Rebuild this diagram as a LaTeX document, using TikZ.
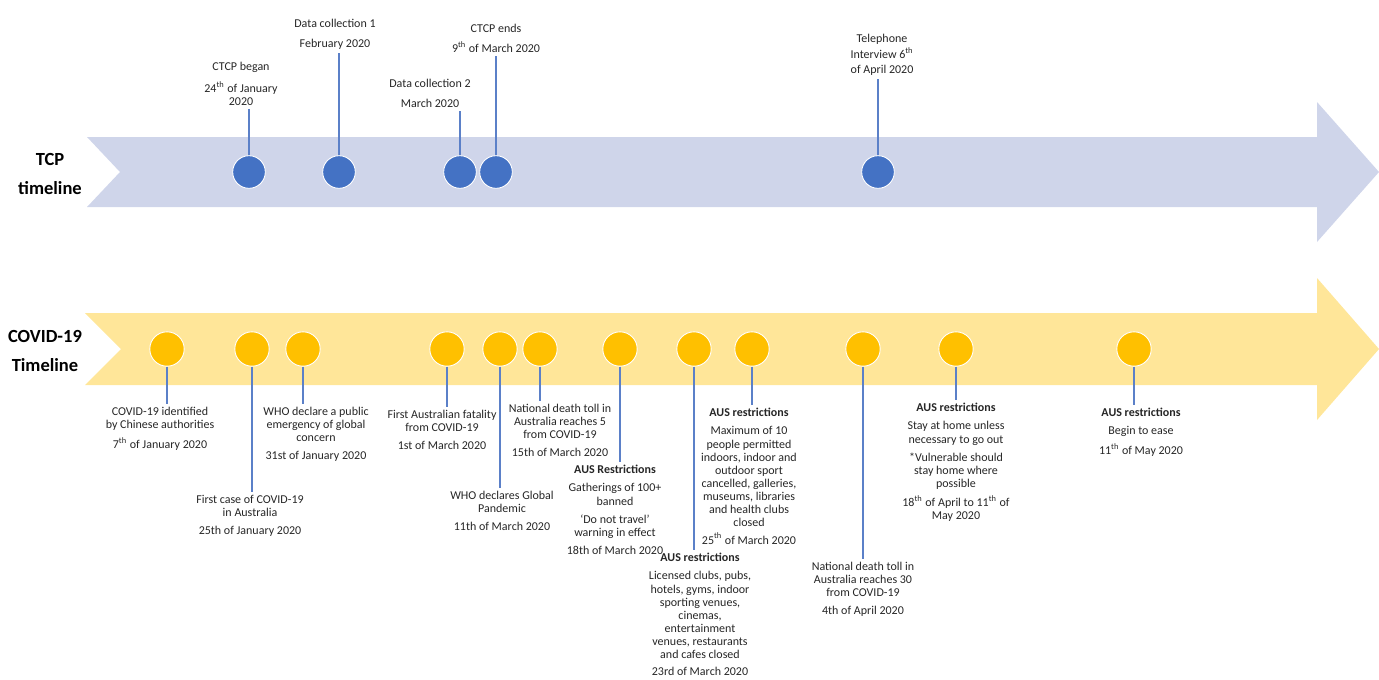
\documentclass[tikz,border=0pt]{standalone}
\usepackage{fontspec}
\setmainfont{Carlito}
\definecolor{tcpband}{HTML}{CFD5EA}
\definecolor{tcpblue}{HTML}{4472C4}
\definecolor{covband}{HTML}{FFE699}
\definecolor{covgold}{HTML}{FFC000}
\definecolor{stemblue}{HTML}{5B80C8}
\definecolor{txtgray}{HTML}{262626}
\tikzset{
  tdot/.style={circle,fill=tcpblue,draw=white,line width=0.5pt,minimum size=18.5pt,inner sep=0pt},
  cdot/.style={circle,fill=covgold,draw=white,line width=0.5pt,minimum size=19.5pt,inner sep=0pt},
  lbl/.style={align=center,inner sep=0pt,outer sep=2pt,text=txtgray,font=\fontsize{6.8}{7.4}\selectfont},
  stemline/.style={draw=stemblue,line width=0.6pt},
  rowtitle/.style={align=center,font=\fontsize{10.5}{12.8}\selectfont\bfseries}
}

\begin{document}
\begin{tikzpicture}[x=0.567pt,y=-0.567pt]
\useasboundingbox (0,0) rectangle (1379,679);

% Draw the two arrows
\fill[tcpband] (87,137) -- (1317,137) -- (1317,102) -- (1379,172) -- (1317,242)
      -- (1317,207) -- (87,207) -- (120,172) -- cycle;
\fill[covband] (85,313) -- (1317,313) -- (1317,278) -- (1379,349) -- (1317,420)
      -- (1317,385) -- (85,385) -- (121,349) -- cycle;

\node[rowtitle] (tcp) at (50,174) {TCP\\[3.6pt]timeline};
\node[rowtitle] (covid) at (45,351) {COVID-19\\[3.6pt]Timeline};

% TCP timeline
\node[tdot] (began) at (249,172) {};
\node[tdot] (dc1) at (339,172) {};
\node[tdot] (dc2) at (460,172) {};
\node[tdot] (ends) at (496,172) {};
\node[tdot] (phone) at (878,172) {};

\node[lbl,anchor=south] (began-txt) at (241,109) {CTCP began\\[4pt]24\textsuperscript{th} of January\\2020};
\node[lbl,anchor=south] (dc1-txt) at (335,53) {Data collection 1\\[4pt]February 2020};
\node[lbl,anchor=south] (dc2-txt) at (430,111) {Data collection 2\\[4pt]March 2020};
\node[lbl,anchor=south] (ends-txt) at (496,56) {CTCP ends\\[4pt]9\textsuperscript{th} of March 2020};
\node[lbl,anchor=south] (phone-txt) at (882,79) {Telephone\\[1pt]Interview 6\textsuperscript{th}\\[1pt]of April 2020};

\draw[stemline] (began.north) -- (began.north |- began-txt.south);
\draw[stemline] (dc1.north) -- (dc1.north |- dc1-txt.south);
\draw[stemline] (dc2.north) -- (dc2.north |- dc2-txt.south);
\draw[stemline] (ends.north) -- (ends.north |- ends-txt.south);
\draw[stemline] (phone.north) -- (phone.north |- phone-txt.south);

% COVID-19 timeline
\node[cdot] (ident) at (167,349) {};
\node[cdot] (case1) at (252,349) {};
\node[cdot] (pheic) at (303,349) {};
\node[cdot] (fatal1) at (447,349) {};
\node[cdot] (pandemic) at (500,349) {};
\node[cdot] (toll5) at (540,349) {};
\node[cdot] (gather) at (620,349) {};
\node[cdot] (clubs) at (694,349) {};
\node[cdot] (max10) at (752,349) {};
\node[cdot] (toll30) at (863,349) {};
\node[cdot] (stayhome) at (956,349) {};
\node[cdot] (ease) at (1134,349) {};

\node[lbl,anchor=north] (ident-txt) at (160,404) {COVID-19 identified\\by Chinese authorities\\[2.8pt]7\textsuperscript{th} of January 2020};
\node[lbl,anchor=north] (case1-txt) at (250,492) {First case of COVID-19\\in Australia\\[2.8pt]25th of January 2020};
\node[lbl,anchor=north] (pheic-txt) at (316,404) {WHO declare a public\\emergency of global\\concern\\[2.8pt]31st of January 2020};
\node[lbl,anchor=north] (fatal1-txt) at (442,407) {First Australian fatality\\from COVID-19\\[2.8pt]1st of March 2020};
\node[lbl,anchor=north] (pandemic-txt) at (502,488) {WHO declares Global\\Pandemic\\[2.8pt]11th of March 2020};
\node[lbl,anchor=north] (toll5-txt) at (560,401) {National death toll in\\Australia reaches 5\\from COVID-19\\[2.8pt]15th of March 2020};
\node[lbl,anchor=north] (gather-txt) at (615,462) {\textbf{AUS Restrictions}\\[2.8pt]Gatherings of 100+\\banned\\[2.8pt]‘Do not travel’\\warning in effect\\[2.8pt]18th of March 2020};
\node[lbl,anchor=north] (clubs-txt) at (700,550) {\textbf{AUS restrictions}\\[2.8pt]Licensed clubs, pubs,\\hotels, gyms, indoor\\sporting venues,\\cinemas,\\entertainment\\venues, restaurants\\and cafes closed\\[2.4pt]23rd of March 2020};
\node[lbl,anchor=north] (max10-txt) at (749,405) {\textbf{AUS restrictions}\\[2.8pt]Maximum of 10\\people permitted\\indoors, indoor and\\outdoor sport\\cancelled, galleries,\\museums, libraries\\and health clubs\\closed\\[2.8pt]25\textsuperscript{th} of March 2020};
\node[lbl,anchor=north] (toll30-txt) at (863,559) {National death toll in\\Australia reaches 30\\from COVID-19\\[2.8pt]4th of April 2020};
\node[lbl,anchor=north] (stayhome-txt) at (956,400) {\textbf{AUS restrictions}\\[2.8pt]Stay at home unless\\necessary to go out\\[2.8pt]*Vulnerable should\\stay home where\\possible\\[2.8pt]18\textsuperscript{th} of April to 11\textsuperscript{th} of\\May 2020};
\node[lbl,anchor=north] (ease-txt) at (1141,405) {\textbf{AUS restrictions}\\[2.8pt]Begin to ease\\[2.8pt]11\textsuperscript{th} of May 2020};

\draw[stemline] (ident.south) -- (ident.south |- ident-txt.north);
\draw[stemline] (case1.south) -- (case1.south |- case1-txt.north);
\draw[stemline] (pheic.south) -- (pheic.south |- pheic-txt.north);
\draw[stemline] (fatal1.south) -- (fatal1.south |- fatal1-txt.north);
\draw[stemline] (pandemic.south) -- (pandemic.south |- pandemic-txt.north);
\draw[stemline] (toll5.south) -- (toll5.south |- toll5-txt.north);
\draw[stemline] (gather.south) -- (gather.south |- gather-txt.north);
\draw[stemline] (clubs.south) -- (clubs.south |- clubs-txt.north);
\draw[stemline] (max10.south) -- (max10.south |- max10-txt.north);
\draw[stemline] (toll30.south) -- (toll30.south |- toll30-txt.north);
\draw[stemline] (stayhome.south) -- (stayhome.south |- stayhome-txt.north);
\draw[stemline] (ease.south) -- (ease.south |- ease-txt.north);

\end{tikzpicture}
\end{document}
